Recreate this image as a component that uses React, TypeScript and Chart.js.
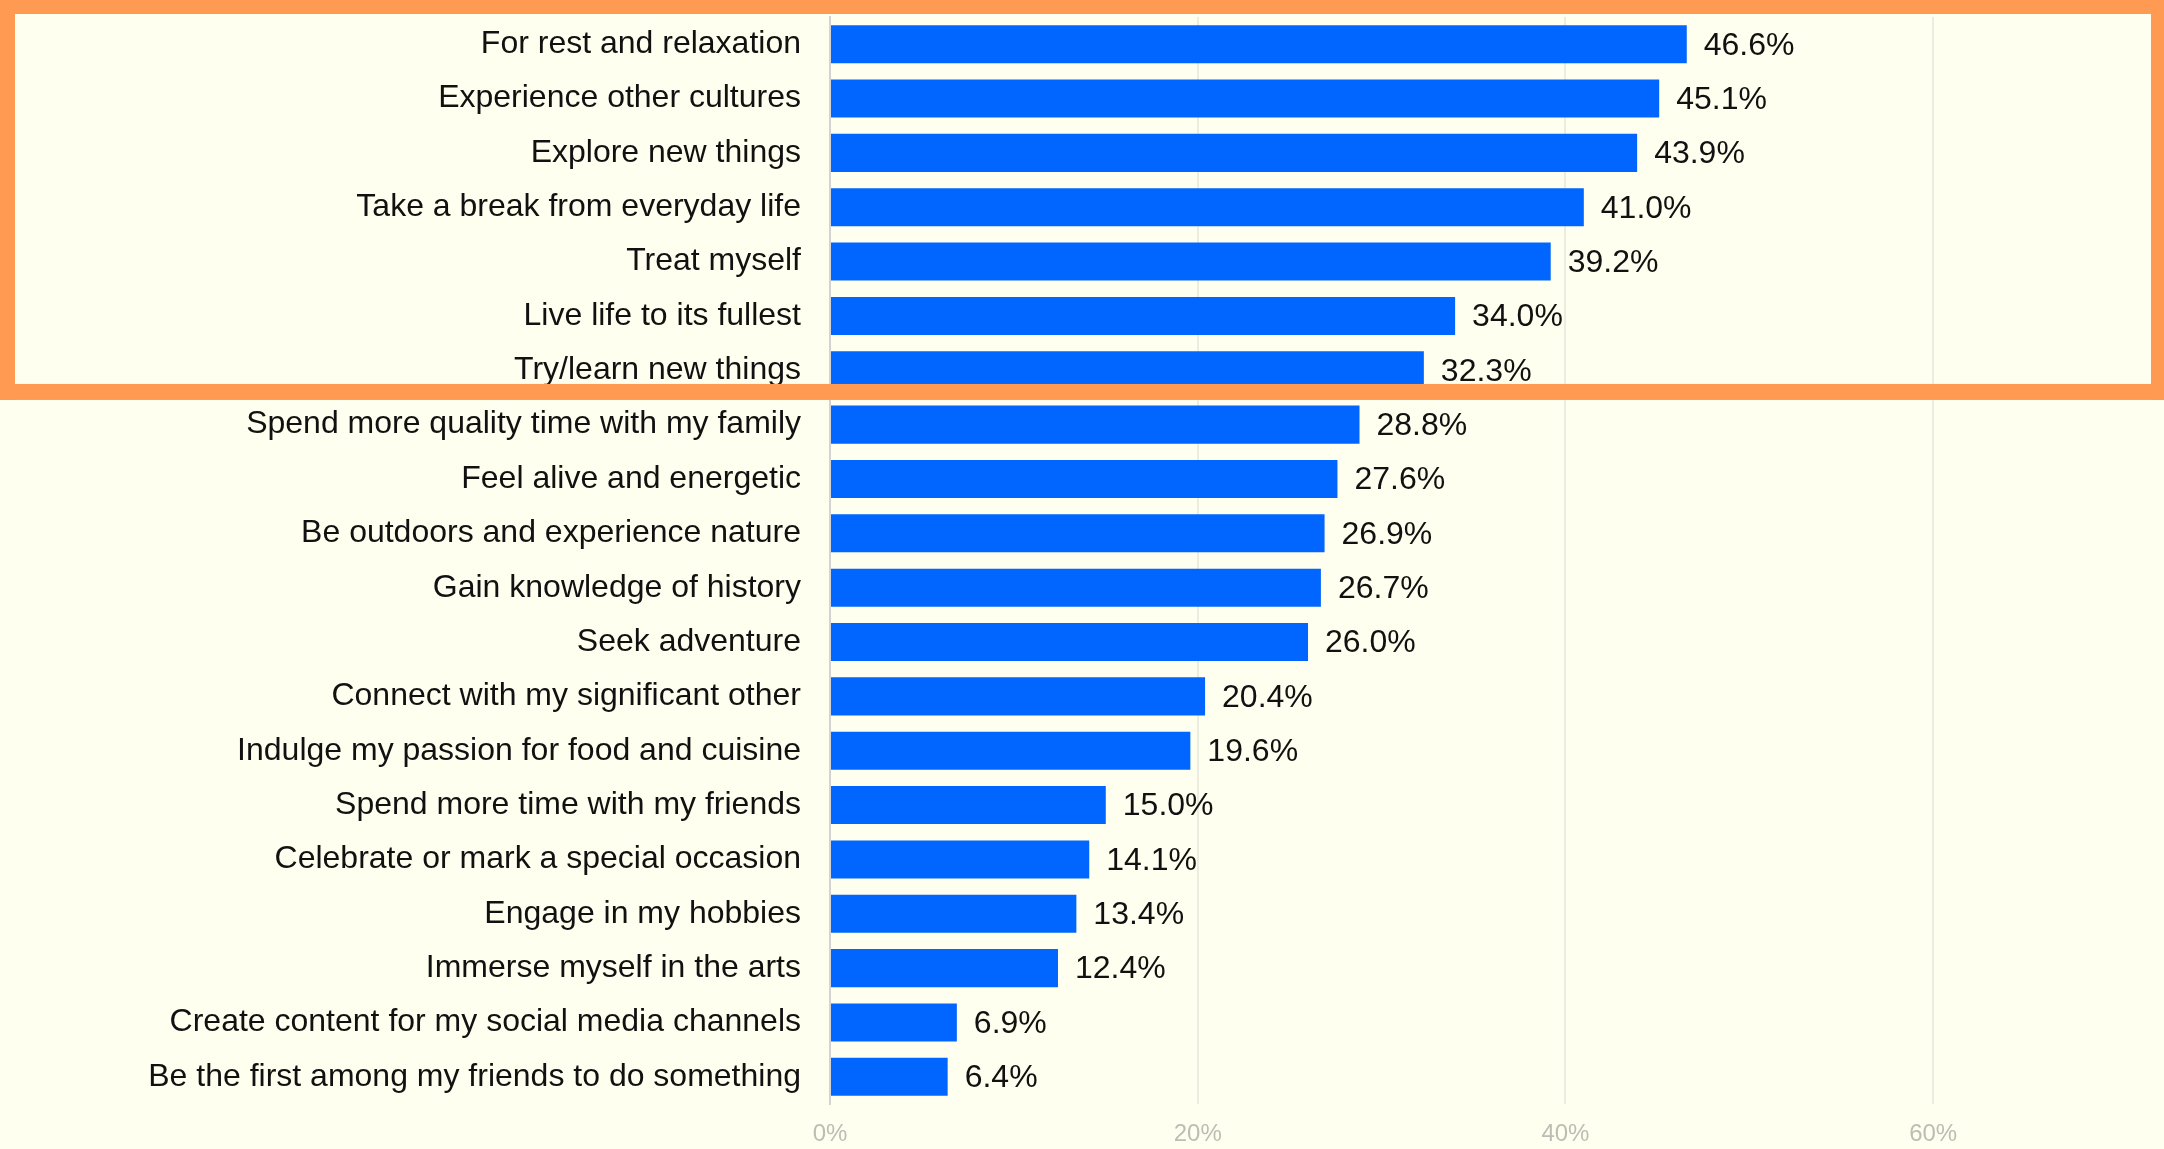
import React, { useEffect, useRef } from "react";
import { Chart, registerables } from "chart.js";

Chart.register(...registerables);

const categories: string[] = [
  "For rest and relaxation",
  "Experience other cultures",
  "Explore new things",
  "Take a break from everyday life",
  "Treat myself",
  "Live life to its fullest",
  "Try/learn new things",
  "Spend more quality time with my family",
  "Feel alive and energetic",
  "Be outdoors and experience nature",
  "Gain knowledge of history",
  "Seek adventure",
  "Connect with my significant other",
  "Indulge my passion for food and cuisine",
  "Spend more time with my friends",
  "Celebrate or mark a special occasion",
  "Engage in my hobbies",
  "Immerse myself in the arts",
  "Create content for my social media channels",
  "Be the first among my friends to do something",
];

const values: number[] = [
  46.6, 45.1, 43.9, 41.0, 39.2, 34.0, 32.3, 28.8, 27.6, 26.9, 26.7, 26.0, 20.4,
  19.6, 15.0, 14.1, 13.4, 12.4, 6.9, 6.4,
];

const xTickValues: number[] = [0, 20, 40, 60];
const highlightCount = 7;

const FONT = "'Liberation Sans', Arial, Helvetica, sans-serif";
const BG = "#FEFFEE";
const BAR = "#0066FF";
const ORANGE = "#FF9A52";

const valueLabelPlugin = {
  id: "valueLabels",
  afterDatasetsDraw(chart: any) {
    const ctx = chart.ctx;
    const meta = chart.getDatasetMeta(0);
    ctx.save();
    ctx.font = `32px ${FONT}`;
    ctx.fillStyle = "#111111";
    ctx.textAlign = "left";
    ctx.textBaseline = "middle";
    meta.data.forEach((bar: any, i: number) => {
      ctx.fillText(values[i].toFixed(1) + "%", bar.x + 17, bar.y + 1.5);
    });
    ctx.restore();
  },
};

const highlightPlugin = {
  id: "highlightBox",
  afterDraw(chart: any) {
    const ctx = chart.ctx;
    const W = chart.width;
    const y = chart.scales.y;
    const bottom = y.getPixelForValue(highlightCount - 0.5) + 2.5;
    ctx.save();
    ctx.fillStyle = ORANGE;
    ctx.fillRect(0, 0, W, 14);
    ctx.fillRect(0, 0, 15, bottom);
    ctx.fillRect(W - 13, 0, 13, bottom);
    ctx.fillRect(0, bottom - 16, W, 16);
    ctx.restore();
  },
};

export default function App() {
  const canvasRef = useRef<HTMLCanvasElement | null>(null);

  useEffect(() => {
    if (!canvasRef.current) return;
    const chart = new Chart(canvasRef.current, {
      type: "bar",
      data: {
        labels: categories,
        datasets: [
          {
            data: values,
            backgroundColor: BAR,
            borderWidth: 0,
            barPercentage: 0.7,
            categoryPercentage: 1,
          },
        ],
      },
      options: {
        indexAxis: "y",
        animation: false,
        responsive: true,
        maintainAspectRatio: false,
        layout: { padding: { top: 17, right: 47, bottom: 0, left: 0 } },
        plugins: {
          legend: { display: false },
          tooltip: { enabled: false },
        },
        scales: {
          x: {
            min: 0,
            max: 70,
            afterBuildTicks: (scale: any) => {
              scale.ticks = xTickValues.map((v) => ({ value: v }));
            },
            afterFit: (scale: any) => {
              scale.height = 45;
            },
            grid: {
              color: "#ECECE0",
              lineWidth: 2,
              drawTicks: false,
            },
            border: { display: false },
            ticks: {
              padding: 16,
              color: "#BDBDB5",
              font: { family: FONT, size: 24 },
              callback: (v: any) => v + "%",
            },
          },
          y: {
            afterFit: (scale: any) => {
              scale.width = 830;
            },
            grid: {
              display: true,
              color: "rgba(0,0,0,0)",
              drawTicks: true,
              tickLength: 29,
            },
            border: { display: true, color: "#D3D3D3", width: 2 },
            ticks: {
              padding: 0,
              color: "#111111",
              font: { family: FONT, size: 32, lineHeight: 1 },
              autoSkip: false,
            },
          },
        },
      },
      plugins: [valueLabelPlugin, highlightPlugin],
    });
    return () => chart.destroy();
  }, []);

  return (
    <div
      style={{
        position: "fixed",
        left: 0,
        top: 0,
        width: "2164px",
        height: "1149px",
        background: BG,
      }}
    >
      <canvas ref={canvasRef} />
    </div>
  );
}
